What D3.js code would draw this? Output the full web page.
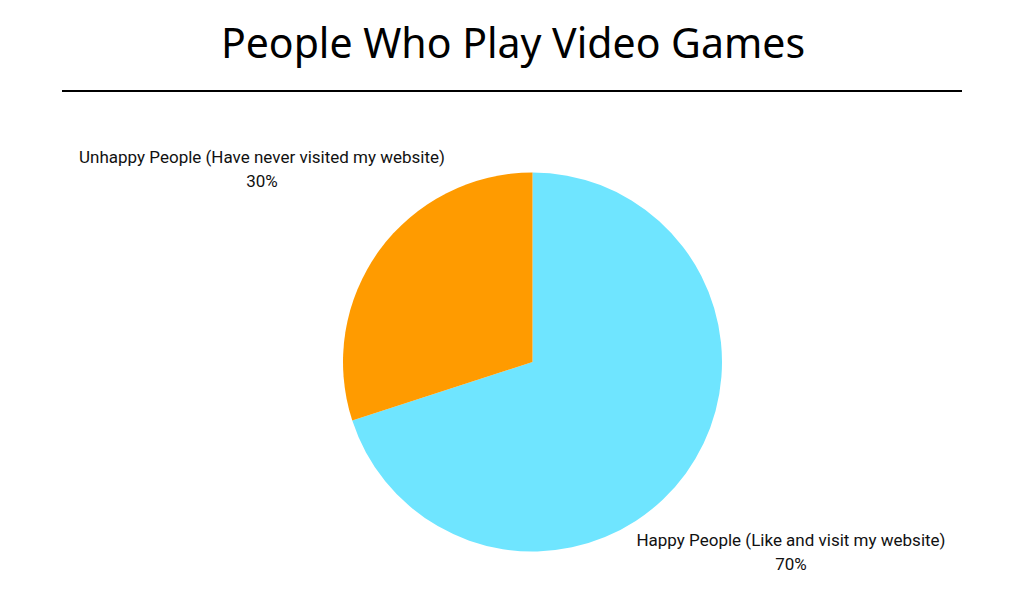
<!DOCTYPE html>
<html><head><meta charset="utf-8">
<script src="https://cdn.jsdelivr.net/npm/d3@7"></script>
<style>html,body{margin:0;padding:0;background:#fff;}</style>
</head><body>
<svg id="chart" width="1022" height="597"></svg>
<script>
const categories = ["Happy People (Like and visit my website)", "Unhappy People (Have never visited my website)"];
const values = [70, 30];
const percentLabels = ["70%", "30%"];
const colors = ["#6FE5FF", "#FF9B00"];
const title = "People Who Play Video Games";

const svg = d3.select("#chart");
svg.append("rect").attr("width",1022).attr("height",597).attr("fill","#fff");

svg.append("text").attr("x",513).attr("y",58).attr("text-anchor","middle")
  .attr("font-family","'Noto Sans', sans-serif").attr("font-size",41).attr("fill","#000")
  .text(title);
svg.append("line").attr("x1",62).attr("x2",962).attr("y1",91).attr("y2",91)
  .attr("stroke","#000").attr("stroke-width",2);

const cx = 532.5, cy = 362, r = 189.5;
const pie = d3.pie().sort(null).value(d => d)(values);
const arc = d3.arc().innerRadius(0).outerRadius(r);
const color = d3.scaleOrdinal().domain(categories).range(colors);
const g = svg.append("g").attr("transform",`translate(${cx},${cy})`);
g.selectAll("path").data(pie).join("path")
  .attr("d", arc).attr("fill", (d,i) => color(categories[i]));

const labelPos = [[791, 540], [262, 157]];
categories.forEach((c,i) => {
  const t = svg.append("text").attr("text-anchor","middle")
    .attr("font-family","Roboto, sans-serif").attr("font-size",17).attr("fill","#111");
  t.append("tspan").attr("x",labelPos[i][0]).attr("y",labelPos[i][1]+6).text(c);
  t.append("tspan").attr("x",labelPos[i][0]).attr("y",labelPos[i][1]+30).text(percentLabels[i]);
});
</script>
</body></html>
